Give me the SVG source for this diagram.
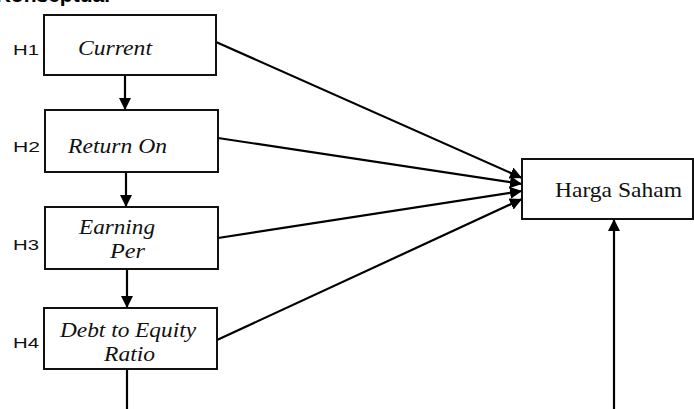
<svg xmlns="http://www.w3.org/2000/svg" width="694" height="409" viewBox="0 0 694 409">
<style>
.box{fill:#fff;stroke:#111;stroke-width:2}
.lbl{font-family:"Liberation Serif","DejaVu Serif",serif;font-style:italic;font-size:21px;fill:#111}
.h{font-family:"Liberation Sans","DejaVu Sans",sans-serif;font-size:14px;fill:#111}
.ln{stroke:#000;stroke-width:2.2;fill:none}
</style>
<defs>
<marker id="ah" viewBox="0 0 10 10" refX="10" refY="5" markerWidth="5.5" markerHeight="5.5" orient="auto" markerUnits="strokeWidth">
<path d="M0,0 L10,5 L0,10 z" fill="#000"/>
</marker>
</defs>
<rect width="694" height="409" fill="#fff"/>
<text x="110" y="2" text-anchor="end" font-family="Liberation Sans, Arial, sans-serif" font-weight="bold" font-size="21" fill="#000">Konseptual</text>
<g id="connectors">
<line class="ln" x1="125" y1="75" x2="125" y2="110" marker-end="url(#ah)"/>
<line class="ln" x1="126" y1="172" x2="126" y2="207" marker-end="url(#ah)"/>
<line class="ln" x1="127" y1="269" x2="127" y2="308" marker-end="url(#ah)"/>
<line class="ln" x1="127" y1="369" x2="127" y2="409"/>
<line class="ln" x1="216" y1="42" x2="522" y2="178" marker-end="url(#ah)"/>
<line class="ln" x1="218" y1="138" x2="522" y2="184" marker-end="url(#ah)"/>
<line class="ln" x1="218" y1="238" x2="522" y2="191" marker-end="url(#ah)"/>
<line class="ln" x1="217" y1="340" x2="522" y2="199" marker-end="url(#ah)"/>
<line class="ln" x1="614" y1="409" x2="614" y2="219" marker-end="url(#ah)"/>
</g>
<g id="n1">
<rect class="box" x="44" y="15" width="172" height="60"/>
<text class="h" x="13" y="55" textLength="26" lengthAdjust="spacingAndGlyphs">H1</text>
<text class="lbl" x="78" y="55" textLength="74" lengthAdjust="spacingAndGlyphs">Current</text>
</g>
<g id="n2">
<rect class="box" x="45" y="110" width="173" height="62"/>
<text class="h" x="13" y="152" textLength="27" lengthAdjust="spacingAndGlyphs">H2</text>
<text class="lbl" x="68" y="153" textLength="99" lengthAdjust="spacingAndGlyphs">Return On</text>
</g>
<g id="n3">
<rect class="box" x="45" y="207" width="173" height="62"/>
<text class="h" x="13" y="250" textLength="26" lengthAdjust="spacingAndGlyphs">H3</text>
<text class="lbl" x="79" y="234" textLength="76" lengthAdjust="spacingAndGlyphs">Earning</text>
<text class="lbl" x="110" y="258" textLength="35" lengthAdjust="spacingAndGlyphs">Per</text>
</g>
<g id="n4">
<rect class="box" x="44" y="308" width="173" height="61"/>
<text class="h" x="13" y="348" textLength="26" lengthAdjust="spacingAndGlyphs">H4</text>
<text class="lbl" x="60" y="337" textLength="136" lengthAdjust="spacingAndGlyphs">Debt to Equity</text>
<text class="lbl" x="104" y="361" textLength="51" lengthAdjust="spacingAndGlyphs">Ratio</text>
</g>
<g id="n5">
<rect class="box" x="522" y="159" width="171" height="60"/>
<text x="555" y="197" font-family="Liberation Serif, Times New Roman, serif" font-size="21" fill="#111" textLength="127" lengthAdjust="spacingAndGlyphs">Harga Saham</text>
</g>
</svg>
